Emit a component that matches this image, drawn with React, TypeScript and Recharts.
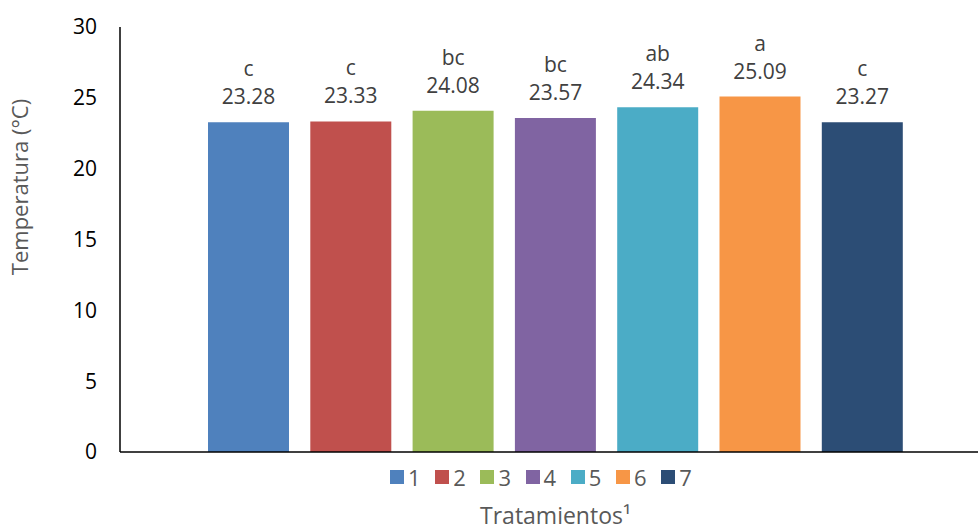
import { BarChart, Bar, XAxis, YAxis, Legend, LabelList, Label } from "recharts";

const treatments = ["1", "2", "3", "4", "5", "6", "7"];
const temps = [23.28, 23.33, 24.08, 23.57, 24.34, 25.09, 23.27];
const letters = ["c", "c", "bc", "bc", "ab", "a", "c"];
const colors = ["#4F81BD", "#C0504D", "#9BBB59", "#8064A2", "#4BACC6", "#F79646", "#2C4D75"];
const yTicks = [0, 5, 10, 15, 20, 25, 30];

const FONT = "'Open Sans', 'Noto Sans', sans-serif";

const row: any = { name: "" };
treatments.forEach((t, i) => {
  row["t" + t] = temps[i];
});
const data = [row];

const makeLabel = (i: number) => (props: any) => {
  const { x, y, width, value } = props;
  const cx = x + width / 2;
  return (
    <g fill="#404040" fontFamily={FONT} fontSize={21}>
      <text x={cx} y={y - 46} textAnchor="middle">
        {letters[i]}
      </text>
      <text x={cx} y={y - 18} textAnchor="middle">
        {value.toFixed(2)}
      </text>
    </g>
  );
};

const LegendContent = () => (
  <div style={{ display: "flex", fontFamily: FONT, fontSize: 22, color: "#595959", lineHeight: "26px" }}>
    {treatments.map((t, i) => (
      <div key={t} style={{ display: "flex", alignItems: "center", width: 45.2 }}>
        <span style={{ width: 14, height: 14, background: colors[i], marginRight: 4 }} />
        <span>{t}</span>
      </div>
    ))}
  </div>
);

export default function App() {
  return (
    <div
      style={{
        position: "absolute",
        left: 0,
        top: 0,
        width: 978,
        height: 532,
        overflow: "hidden",
        background: "#fff",
      }}
    >
      <BarChart
        width={1010}
        height={532}
        data={data}
        margin={{ top: 27, right: 19, left: 0, bottom: 0 }}
        barSize={81}
        barGap={21.3}
      >
        <XAxis
          dataKey="name"
          tick={false}
          tickLine={false}
          axisLine={{ stroke: "#000", strokeWidth: 1.5 }}
          height={80}
        >
          <Label
            content={({ viewBox }: any) => (
              <text
                x={viewBox.x + viewBox.width / 2}
                y={524}
                textAnchor="middle"
                fill="#595959"
                fontFamily={FONT}
                fontSize={23}
              >
                Tratamientos¹
              </text>
            )}
          />
        </XAxis>
        <YAxis
          domain={[0, 30]}
          ticks={yTicks}
          interval={0}
          width={120}
          tickLine={false}
          tickSize={6}
          tickMargin={17}
          axisLine={{ stroke: "#000", strokeWidth: 1.5 }}
          tick={{ fill: "#000", fontFamily: FONT, fontSize: 21 }}
        >
          <Label
            content={() => (
              <text
                x={0}
                y={0}
                transform="translate(28, 187) rotate(-90)"
                textAnchor="middle"
                fill="#595959"
                fontFamily={FONT}
                fontSize={22}
              >
                Temperatura (°C)
              </text>
            )}
          />
        </YAxis>
        <Legend
          verticalAlign="middle"
          align="center"
          wrapperStyle={{ top: 464, left: 390, width: 330 }}
          content={<LegendContent />}
        />
        {treatments.map((t, i) => (
          <Bar key={t} dataKey={"t" + t} name={t} fill={colors[i]} isAnimationActive={false}>
            <LabelList dataKey={"t" + t} content={makeLabel(i)} />
          </Bar>
        ))}
      </BarChart>
    </div>
  );
}
